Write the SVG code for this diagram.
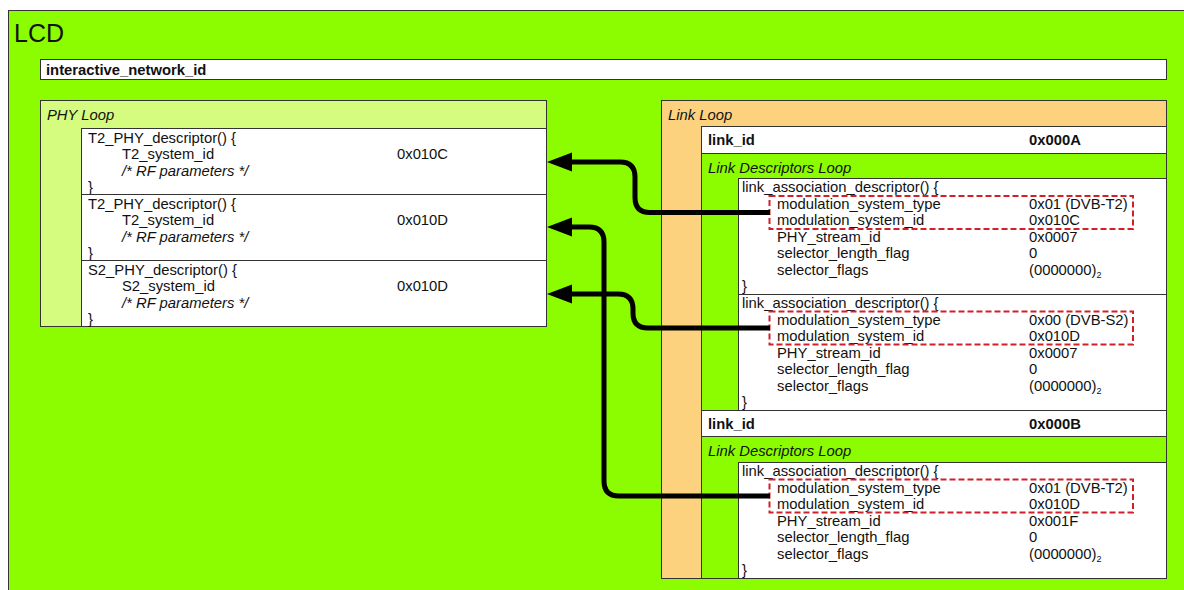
<svg xmlns="http://www.w3.org/2000/svg" width="1184" height="590" viewBox="0 0 1184 590">
<defs>
<style>
.t{font-family:"Liberation Sans",Arial,Helvetica,sans-serif;font-size:14.8px;fill:#111}
.b{font-weight:bold}
.i{font-style:italic}
.box{stroke:#333;stroke-width:1}
.white{fill:#fff}
.green{fill:#8cfc00}
.hl{fill:none;stroke:#d0202a;stroke-width:2;stroke-dasharray:6 3}
.conn{fill:none;stroke:#000;stroke-width:5}
.sub{font-size:9px}
</style>
<marker id="ah" markerUnits="userSpaceOnUse" markerWidth="26" markerHeight="20" refX="12" refY="9.5" orient="auto">
<path d="M0,0 L25,9.5 L0,19 Z" fill="#000"/>
</marker>
</defs>
<rect width="1184" height="590" fill="#fff"/>
<g id="lcd">
<rect class="box green" x="8.5" y="10.5" width="1200" height="600"/>
<text class="t" x="14" y="42" style="font-size:25px">LCD</text>
</g>
<g id="interactive_network_id">
<rect class="box white" x="40.5" y="59.5" width="1126" height="20"/>
<text class="t b" x="46" y="75">interactive_network_id</text>
</g>
<g id="phy_loop">
<rect class="box" fill="#d5fb7f" x="40.5" y="100.5" width="506" height="226"/>
<text class="t i" x="47" y="120">PHY Loop</text>
<g id="phy1">
<rect class="box white" x="81.5" y="128.5" width="465" height="66"/>
<text class="t" x="88" y="142.5">T2_PHY_descriptor() {</text>
<text class="t" x="122" y="159">T2_system_id</text>
<text class="t" x="397" y="159">0x010C</text>
<text class="t i" x="122" y="175.5">/* RF parameters */</text>
<text class="t" x="88" y="192">}</text>
</g>
<g id="phy2">
<rect class="box white" x="81.5" y="194.5" width="465" height="66"/>
<text class="t" x="88" y="208.5">T2_PHY_descriptor() {</text>
<text class="t" x="122" y="225">T2_system_id</text>
<text class="t" x="397" y="225">0x010D</text>
<text class="t i" x="122" y="241.5">/* RF parameters */</text>
<text class="t" x="88" y="258">}</text>
</g>
<g id="phy3">
<rect class="box white" x="81.5" y="260.5" width="465" height="66"/>
<text class="t" x="88" y="274.5">S2_PHY_descriptor() {</text>
<text class="t" x="122" y="291">S2_system_id</text>
<text class="t" x="397" y="291">0x010D</text>
<text class="t i" x="122" y="307.5">/* RF parameters */</text>
<text class="t" x="88" y="324">}</text>
</g>
</g>
<g id="link_loop">
<rect class="box" fill="#fdd27f" x="661.5" y="100.5" width="505" height="478"/>
<text class="t i" x="668" y="120">Link Loop</text>
<g id="link_id_a">
<rect class="box white" x="701.5" y="126.5" width="465" height="27"/>
<text class="t b" x="708" y="145">link_id</text>
<text class="t b" x="1029" y="145">0x000A</text>
</g>
<g id="ldl1">
<rect class="box green" x="701.5" y="153.5" width="465" height="257"/>
<text class="t i" x="708" y="173">Link Descriptors Loop</text>
<g id="lad1">
<rect class="box white" x="738.5" y="178.5" width="428" height="116"/>
<text class="t" x="742" y="192">link_association_descriptor() {</text>
<text class="t" x="777" y="208.5">modulation_system_type</text>
<text class="t" x="1029" y="208.5">0x01 (DVB-T2)</text>
<text class="t" x="777" y="225">modulation_system_id</text>
<text class="t" x="1029" y="225">0x010C</text>
<text class="t" x="777" y="241.5">PHY_stream_id</text>
<text class="t" x="1029" y="241.5">0x0007</text>
<text class="t" x="777" y="258">selector_length_flag</text>
<text class="t" x="1029" y="258">0</text>
<text class="t" x="777" y="274.5">selector_flags</text>
<text class="t" x="1029" y="274.5">(0000000)<tspan class="sub" dy="3">2</tspan></text>
<text class="t" x="742" y="291">}</text>
<rect class="hl" x="769.5" y="196" width="363.5" height="33"/>
</g>
<g id="lad2">
<rect class="box white" x="738.5" y="294.5" width="428" height="116"/>
<text class="t" x="742" y="308">link_association_descriptor() {</text>
<text class="t" x="777" y="324.5">modulation_system_type</text>
<text class="t" x="1029" y="324.5">0x00 (DVB-S2)</text>
<text class="t" x="777" y="341">modulation_system_id</text>
<text class="t" x="1029" y="341">0x010D</text>
<text class="t" x="777" y="357.5">PHY_stream_id</text>
<text class="t" x="1029" y="357.5">0x0007</text>
<text class="t" x="777" y="374">selector_length_flag</text>
<text class="t" x="1029" y="374">0</text>
<text class="t" x="777" y="390.5">selector_flags</text>
<text class="t" x="1029" y="390.5">(0000000)<tspan class="sub" dy="3">2</tspan></text>
<text class="t" x="742" y="407">}</text>
<rect class="hl" x="769.5" y="311.5" width="363.5" height="33"/>
</g>
</g>
<g id="link_id_b">
<rect class="box white" x="701.5" y="410.5" width="465" height="26"/>
<text class="t b" x="708" y="428.5">link_id</text>
<text class="t b" x="1029" y="428.5">0x000B</text>
</g>
<g id="ldl2">
<rect class="box green" x="701.5" y="436.5" width="465" height="142"/>
<text class="t i" x="708" y="456">Link Descriptors Loop</text>
<g id="lad3">
<rect class="box white" x="738.5" y="462.5" width="428" height="116"/>
<text class="t" x="742" y="476">link_association_descriptor() {</text>
<text class="t" x="777" y="492.5">modulation_system_type</text>
<text class="t" x="1029" y="492.5">0x01 (DVB-T2)</text>
<text class="t" x="777" y="509">modulation_system_id</text>
<text class="t" x="1029" y="509">0x010D</text>
<text class="t" x="777" y="525.5">PHY_stream_id</text>
<text class="t" x="1029" y="525.5">0x001F</text>
<text class="t" x="777" y="542">selector_length_flag</text>
<text class="t" x="1029" y="542">0</text>
<text class="t" x="777" y="558.5">selector_flags</text>
<text class="t" x="1029" y="558.5">(0000000)<tspan class="sub" dy="3">2</tspan></text>
<text class="t" x="742" y="575">}</text>
<rect class="hl" x="769.5" y="479.5" width="363.5" height="33"/>
</g>
</g>
</g>
<g id="connectors">
<path class="conn" marker-end="url(#ah)" d="M770,212.5 H650 Q635,212.5 635,197.5 V177 Q635,162 620,162 H560"/>
<path class="conn" marker-end="url(#ah)" d="M770,328 H648 Q633,328 633,313 V309 Q633,294 618,294 H560"/>
<path class="conn" marker-end="url(#ah)" d="M770,496 H619 Q604,496 604,481 V242 Q604,227 589,227 H560"/>
</g>
</svg>
